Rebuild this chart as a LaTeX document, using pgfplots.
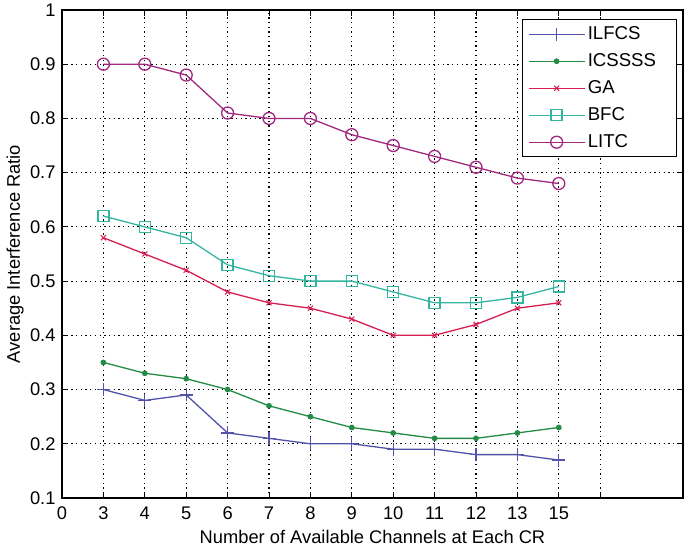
\documentclass[border=0pt]{standalone}
\usepackage{fontspec}
\setmainfont{Liberation Sans}
\usepackage{pgfplots}
\pgfplotsset{compat=1.18}
\definecolor{cILFCS}{HTML}{5252A8}
\definecolor{cICS}{HTML}{228B44}
\definecolor{cGA}{HTML}{D61E50}
\definecolor{cBFC}{HTML}{33B5A0}
\definecolor{cLITC}{HTML}{A0287F}
\begin{document}
\begin{tikzpicture}
\begin{axis}[
  name=ax,
  scale only axis,
  width=621pt, height=488pt,
  xmin=0, xmax=15, ymin=0.1, ymax=1,
  xtick={0,1,2,3,4,5,6,7,8,9,10,11,12,13},
  xticklabels={0,3,4,5,6,7,8,9,10,11,12,13,15,{}},
  ytick={0.1,0.2,0.3,0.4,0.5,0.6,0.7,0.8,0.9,1},
  yticklabels={0.1,0.2,0.3,0.4,0.5,0.6,0.7,0.8,0.9,1},
  tick align=inside,
  major tick length=6pt,
  tick style={black, line width=0.9pt},
  axis line style={black, line width=1.1pt},
  grid=major,
  major grid style={black, line width=1.1pt, dash pattern=on 1.3pt off 3.4pt},
  font=\fontsize{18.3}{21}\selectfont,
  tick label style={font=\fontsize{18.3}{21}\selectfont},
  xticklabel style={yshift=-5pt},
  yticklabel style={xshift=-3pt},
  xlabel={Number of Available Channels at Each CR},
  ylabel={Average Interference Ratio},
  xlabel style={at={(axis description cs:0.5,0)}, anchor=base, yshift=-45pt},
  ylabel style={at={(axis description cs:-0.068,0.5)}, anchor=base, rotate=0},
  legend cell align=left,
  legend style={at={(1,1)}, anchor=north east, xshift=-6pt, yshift=-9pt,
    draw=black, line width=1pt, row sep=7.5pt, inner xsep=5pt, inner ysep=5pt,
    font=\fontsize{18.6}{21}\selectfont,
    nodes={inner sep=2.5pt, font=\fontsize{18.6}{21}\selectfont}},
  legend image code/.code={\draw[mark repeat=2,mark phase=2] plot coordinates {(0pt,0pt) (28pt,0pt) (56pt,0pt)};},
  every axis plot/.append style={line width=1.3pt},
]
\addplot[color=cILFCS, mark=+, mark size=6.5pt, mark options={line width=1.2pt}] coordinates {
(1,0.30) (2,0.28) (3,0.29) (4,0.22) (5,0.21) (6,0.20) (7,0.20) (8,0.19) (9,0.19) (10,0.18) (11,0.18) (12,0.17)};
\addlegendentry{ILFCS}
\addplot[color=cICS, mark=*, mark size=2.2pt] coordinates {
(1,0.35) (2,0.33) (3,0.32) (4,0.30) (5,0.27) (6,0.25) (7,0.23) (8,0.22) (9,0.21) (10,0.21) (11,0.22) (12,0.23)};
\addlegendentry{ICSSSS\hspace*{13pt}}
\addplot[color=cGA, mark=x, mark size=3.5pt, mark options={line width=1.1pt}] coordinates {
(1,0.58) (2,0.55) (3,0.52) (4,0.48) (5,0.46) (6,0.45) (7,0.43) (8,0.40) (9,0.40) (10,0.42) (11,0.45) (12,0.46)};
\addlegendentry{GA}
\addplot[color=cBFC, mark=square, mark size=5.5pt, mark options={line width=1.3pt}] coordinates {
(1,0.62) (2,0.60) (3,0.58) (4,0.53) (5,0.51) (6,0.50) (7,0.50) (8,0.48) (9,0.46) (10,0.46) (11,0.47) (12,0.49)};
\addlegendentry{BFC}
\addplot[color=cLITC, mark=o, mark size=6pt, mark options={line width=1.3pt}] coordinates {
(1,0.90) (2,0.90) (3,0.88) (4,0.81) (5,0.80) (6,0.80) (7,0.77) (8,0.75) (9,0.73) (10,0.71) (11,0.69) (12,0.68)};
\addlegendentry{LITC}
\end{axis}
\pgfresetboundingbox
\path ([xshift=-62pt,yshift=-48pt]ax.south west) rectangle ([xshift=2pt,yshift=10pt]ax.north east);
\end{tikzpicture}
\end{document}
